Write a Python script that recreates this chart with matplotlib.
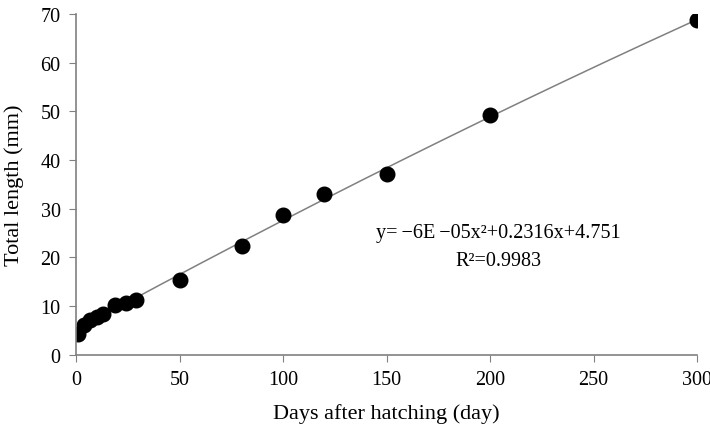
import numpy as np
import matplotlib
matplotlib.use('Agg')
import matplotlib.pyplot as plt

# days after hatching and total length (mm)
days = [1, 4, 7, 10, 13, 19, 24, 29, 50, 80, 100, 120, 150, 200, 300]
length = [4.3, 6.1, 7.1, 7.7, 8.3, 10.2, 10.6, 11.3, 15.3, 22.3, 28.7, 33.0, 37.2, 49.2, 68.8]

x_ticks = [0, 50, 100, 150, 200, 250, 300]
y_ticks = [0, 10, 20, 30, 40, 50, 60, 70]

plt.rcParams['font.family'] = ['Liberation Serif', 'DejaVu Serif']

fig = plt.figure(figsize=(7.10, 4.39), dpi=100)
ax = fig.add_axes([0.107, 0.19, 0.875, 0.776])

# second order polynomial trendline fitted to the points
coef = np.polyfit(days, length, 2)
xs = np.linspace(min(days), max(days), 200)
ax.plot(xs, np.polyval(coef, xs), color='#808080', lw=1.1, zorder=1)
ax.plot(days, length, 'o', color='black', markersize=10.5, zorder=2)

ax.text(204, 25.0, 'y=\u2009\u22126E\u2009\u221205x\u00b2+0.2316x+4.751', ha='center', va='center', fontsize=14.5)
ax.text(204, 19.3, 'R\u00b2=0.9983', ha='center', va='center', fontsize=14.5)

ax.set_xlim(0, 300)
ax.set_ylim(0, 70)
ax.set_xticks(x_ticks)
ax.set_yticks(y_ticks)
for s in ['top', 'right']:
    ax.spines[s].set_visible(False)
for s in ['left', 'bottom']:
    ax.spines[s].set_color('#808080')
    ax.spines[s].set_linewidth(1.2)
ax.tick_params(direction='out', length=5, color='#808080', labelsize=14.5, pad=6)
ax.set_xlabel('Days after hatching (day)', fontsize=16, labelpad=10)
ax.set_ylabel('Total length (mm)', fontsize=16, labelpad=12)

fig.savefig('out.png', dpi=100)
